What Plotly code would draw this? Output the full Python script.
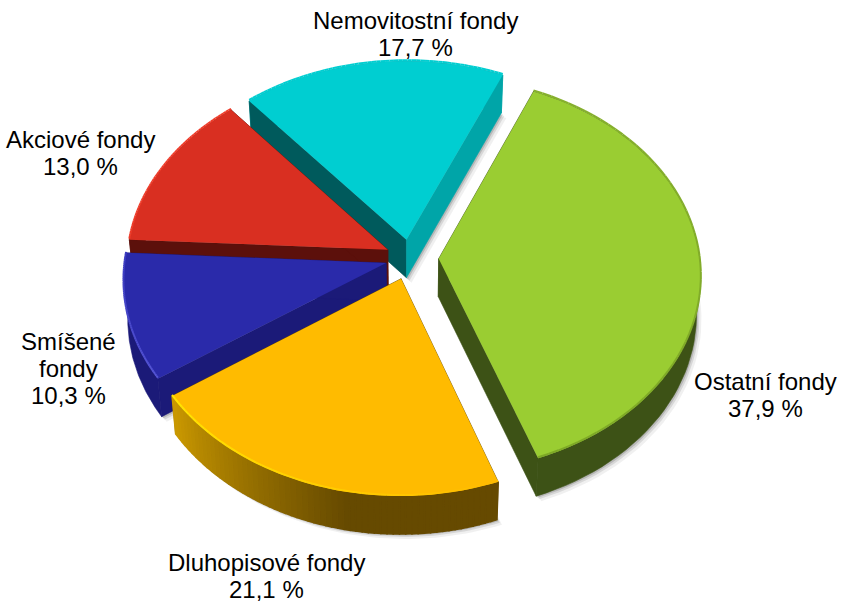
import numpy as np
import plotly.graph_objects as go

# Data, clockwise from the upper right
labels = [['Ostatní fondy'], ['Dluhopisové fondy'], ['Smíšené', 'fondy'], ['Akciové fondy'], ['Nemovitostní fondy']]
shares = [37.9, 21.1, 10.3, 13.0, 17.7]
pulls = [0.11, 0.11, 0.095, 0.095, 0.095]
top_colors = ['#9ACD32', '#FFBB00', '#2A2AAA', '#D92F21', '#00CED1']
# outer wall colours: near the slice start, near the slice end of the arc
arc_colors = [('#3D5216', '#3D5216'), ('#664A00', '#CC9A00'), ('#1B1A78', '#1B1A78'),
              ('#5C100B', '#5C100B'), ('#00A5A8', '#00A5A8')]
start_wall = ['#3D5216', '#664A00', '#1B1A78', '#5C100B', '#005A5C']
end_wall = ['#3D5216', '#664A00', '#1B1A78', '#5C100B', '#00A5A8']
rim_colors = [('#86B02C', '#7DA826'), ('#FFBB00', '#FFE600'), ('#5555D5', '#3A3AC0'),
              ('#EE3A28', '#EE3A28'), ('#00CED1', '#00CED1')]
# back to front
draw_order = [4, 3, 2, 0, 1]
# y of the first line, x centre of the label
label_pos = [(765, 381), (266, 562), (68, 341), (80, 139), (415, 20)]

# Projection settings
start_angle = 23.5
cx, cy = 410, 258
rx, ry = 261, 196
persp = 0.082
depth = 38
shrink = 0.985
n_seg = 60
line_gap = 27


def project(th, r, mid, pull, low=False):
    px = r * np.sin(th) + pull * np.sin(mid)
    py = -r * np.cos(th) - pull * np.cos(mid)
    s = 1 / (1 - persp * py)
    x = rx * px * s
    y = cy + ry * py * s
    if low:
        return cx + x * shrink, y + depth
    return cx + x, y


def mix(c1, c2, t):
    a = [int(c1[i:i + 2], 16) for i in (1, 3, 5)]
    b = [int(c2[i:i + 2], 16) for i in (1, 3, 5)]
    return 'rgb(%d,%d,%d)' % tuple(round(a[i] + (b[i] - a[i]) * t) for i in range(3))


def poly(xs, ys, color, width=0.6):
    return go.Scatter(x=list(xs), y=list(ys), mode='lines', fill='toself', fillcolor=color,
                      line=dict(color=color, width=width), hoverinfo='skip', showlegend=False)


fig = go.Figure()

# slice angles come from the shares
edges = np.radians(start_angle + np.cumsum([0] + shares) * 3.6)

for i in draw_order:
    t0, t1 = edges[i], edges[i + 1]
    mid = (t0 + t1) / 2
    p = pulls[i]
    ths = np.linspace(t0, t1, n_seg + 1)

    ax, ay = project(0, 0, mid, p)
    bx, by = project(0, 0, mid, p, low=True)
    tx, ty = project(ths, 1, mid, p)
    lx, ly = project(ths, 1, mid, p, low=True)

    # soft shadow under the slice
    for off, alpha in [(5, 0.06), (3, 0.1), (1.5, 0.15)]:
        fig.add_trace(go.Scatter(x=[bx + off] + list(lx + off) + [bx + off],
                                 y=[by + off] + list(ly + off) + [by + off],
                                 mode='lines', fill='toself', fillcolor='rgba(0,0,0,%s)' % alpha,
                                 line=dict(width=0), hoverinfo='skip', showlegend=False))

    # outer wall, strips only where there is a gradient
    c0, c1 = arc_colors[i]
    arc = []
    if c0 == c1:
        arc.append(poly(list(tx) + list(lx[::-1]) + [tx[0]], list(ty) + list(ly[::-1]) + [ty[0]], c0))
    else:
        for k in range(n_seg):
            c = mix(c0, c1, max(0, (k / n_seg - 0.4) / 0.6))
            arc.append(poly([tx[k], tx[k + 1], lx[k + 1], lx[k], tx[k]],
                            [ty[k], ty[k + 1], ly[k + 1], ly[k], ty[k]], c, width=1.5))
    radial = [poly([ax, tx[0], lx[0], bx, ax], [ay, ty[0], ly[0], by, ay], start_wall[i]),
              poly([ax, tx[-1], lx[-1], bx, ax], [ay, ty[-1], ly[-1], by, ay], end_wall[i])]

    # on the back slices the arc is hidden, so the radial walls go over it
    walls = arc + radial if np.cos(mid) > 0 else radial + arc
    fig.add_traces(walls)

    # top face
    fig.add_trace(poly([ax] + list(tx) + [ax], [ay] + list(ty) + [ay], top_colors[i], width=0))

    # bevel along the rim
    for k in range(n_seg):
        c = mix(rim_colors[i][0], rim_colors[i][1], k / n_seg)
        fig.add_trace(go.Scatter(x=tx[k:k + 2], y=ty[k:k + 2] - 1, mode='lines',
                                 line=dict(color=c, width=2), hoverinfo='skip', showlegend=False))

# labels, one annotation per line so the line gap can be set
for name, val, pos in zip(labels, shares, label_pos):
    lines = name + [('%.1f' % val).replace('.', ',') + ' %']
    for n, txt in enumerate(lines):
        fig.add_annotation(x=pos[0], y=pos[1] + n * line_gap, text=txt, showarrow=False,
                           font=dict(family='Liberation Sans', size=24, color='black'))

fig.update_layout(width=842, height=607, margin=dict(l=0, r=0, t=0, b=0),
                  paper_bgcolor='white', plot_bgcolor='white', showlegend=False,
                  xaxis=dict(range=[0, 842], visible=False),
                  yaxis=dict(range=[607, 0], visible=False))
fig.write_html("out.html", post_script="document.body.style.margin='0';",
               config=dict(displayModeBar=False))
